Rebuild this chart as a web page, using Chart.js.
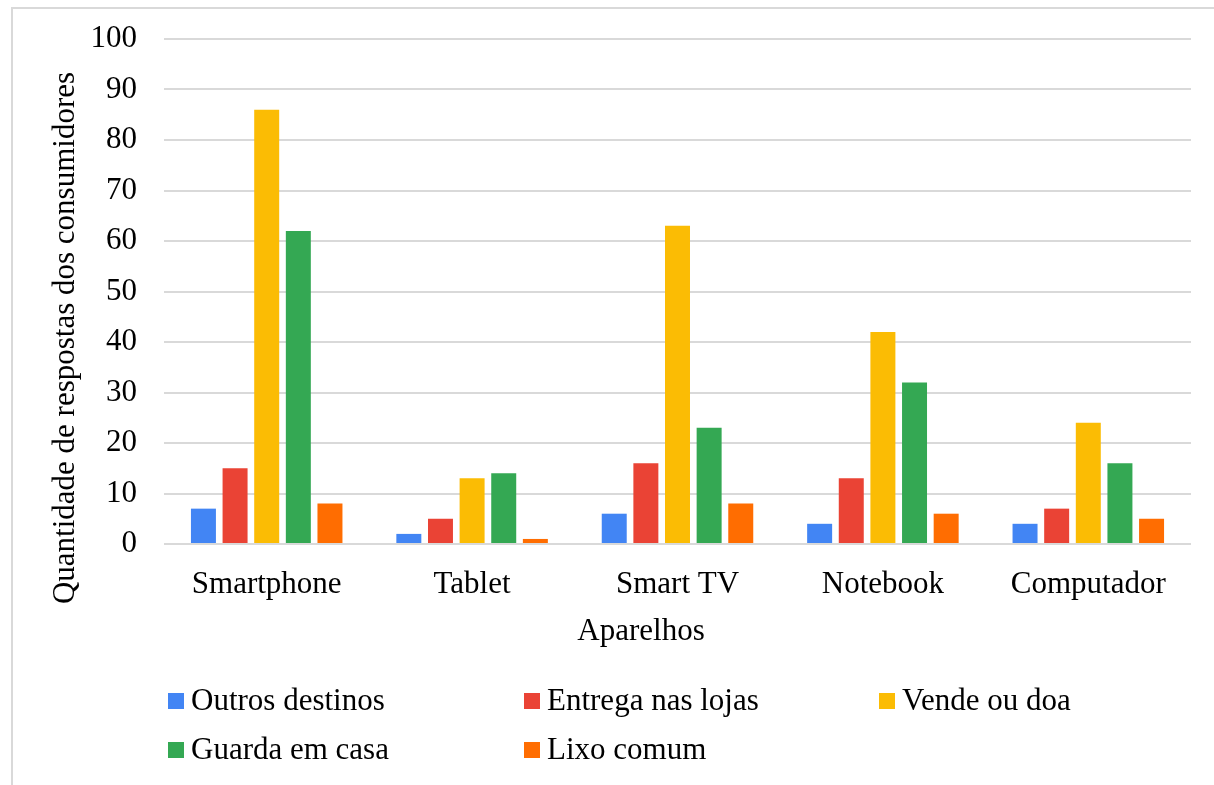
<!DOCTYPE html>
<html>
<head>
<meta charset="utf-8">
<script src="https://cdn.jsdelivr.net/npm/chart.js@4"></script>
<style>
  body { margin: 0; background: #fff; }
  #wrap { position: relative; width: 1214px; height: 785px; overflow: hidden; }
  #frame { position: absolute; left: 11px; top: 7px; width: 1240px; height: 820px; border: 2px solid #d9d9d9; box-sizing: border-box; }
  #grafico { position: absolute; left: 0; top: 0; }
  .item { position: absolute; display: flex; align-items: center; height: 36px;
          font: 31px "Liberation Serif", "Times New Roman", serif; color: #000; white-space: nowrap; }
  .sw { width: 16px; height: 16px; margin-right: 7px; margin-top: 2px; }
</style>
</head>
<body>
<div id="wrap">
  <div id="frame"></div>
  <canvas id="grafico" width="1214" height="785"></canvas>
  <div id="legenda"></div>
</div>
<script>
const aparelhos = ['Smartphone', 'Tablet', 'Smart TV', 'Notebook', 'Computador'];
const destinos = ['Outros destinos', 'Entrega nas lojas', 'Vende ou doa', 'Guarda em casa', 'Lixo comum'];
const outrosDestinos = [7, 2, 6, 4, 4];
const entregaLojas = [15, 5, 16, 13, 7];
const vendeDoa = [86, 13, 63, 42, 24];
const guardaCasa = [62, 14, 23, 32, 16];
const lixoComum = [8, 1, 8, 6, 5];
const cores = ['#4285F4', '#EA4335', '#FBBC04', '#34A853', '#FF6D01'];
const yTicks = [0, 10, 20, 30, 40, 50, 60, 70, 80, 90, 100];

const fonte = '"Liberation Serif", "Times New Roman", serif';
const series = [outrosDestinos, entregaLojas, vendeDoa, guardaCasa, lixoComum];

// titulos dos eixos desenhados a mao (no Excel nao ficam centrados na area do grafico)
const titulos = {
  id: 'titulos',
  afterDraw(chart) {
    const ctx = chart.ctx;
    ctx.save();
    ctx.font = '31px ' + fonte;
    ctx.fillStyle = '#000';
    ctx.textAlign = 'center';
    ctx.textBaseline = 'middle';
    ctx.fillText('Aparelhos', 641, 632);
    ctx.translate(66, 338);
    ctx.rotate(-Math.PI / 2);
    ctx.fillText('Quantidade de respostas dos consumidores', 0, 0);
    ctx.restore();
  }
};

const ctx = document.getElementById('grafico');
new Chart(ctx, {
  type: 'bar',
  data: {
    labels: aparelhos,
    datasets: destinos.map((d, i) => ({
      label: d,
      data: series[i],
      backgroundColor: cores[i],
      categoryPercentage: 0.77,
      barPercentage: 0.79
    }))
  },
  options: {
    responsive: false,
    animation: false,
    layout: { padding: { left: 0, right: 23, top: 39, bottom: 131 } },
    plugins: {
      legend: { display: false },
      tooltip: { enabled: false }
    },
    scales: {
      x: {
        grid: { display: false },
        border: { display: false },
        ticks: { color: '#000', font: { family: fonte, size: 31 }, padding: 14 },
        afterFit: s => { s.height = 110; }
      },
      y: {
        min: 0,
        max: 100,
        afterBuildTicks: s => { s.ticks = yTicks.map(v => ({ value: v })); },
        grid: { color: '#d9d9d9', lineWidth: 2, drawTicks: false },
        border: { display: false },
        ticks: { color: '#000', font: { family: fonte, size: 31 }, padding: 27 },
        afterFit: s => {
          s.width = 164;
          s.paddingTop = 0;
          s.paddingBottom = 0;
        }
      }
    }
  },
  plugins: [titulos]
});

// legenda em grade de 3 colunas, como no original
const colX = [168, 524, 879];
const rowY = [682, 731];
const leg = document.getElementById('legenda');
destinos.forEach((d, i) => {
  const el = document.createElement('div');
  el.className = 'item';
  el.style.left = colX[i % 3] + 'px';
  el.style.top = rowY[Math.floor(i / 3)] + 'px';
  el.innerHTML = '<span class="sw" style="background:' + cores[i] + '"></span>' + d;
  leg.appendChild(el);
});
</script>
</body>
</html>
